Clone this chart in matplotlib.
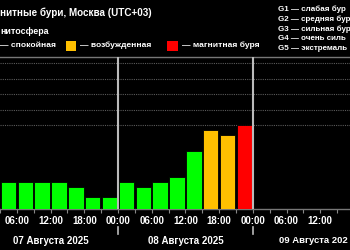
import matplotlib
matplotlib.use("Agg")
import matplotlib.pyplot as plt
import matplotlib.transforms as mtransforms
from matplotlib.patches import Rectangle

# ---- data ----
# 3-hour bins, hours since 07 Aug 2025 00:00 (bin start)
bin_start = [3, 6, 9, 12, 15, 18, 21, 24, 27, 30, 33, 36, 39, 42, 45]
kp_values = [1.33, 1.33, 1.33, 1.33, 1.0, 0.33, 0.33,
             1.33, 1.0, 1.33, 1.67, 3.33, 4.67, 4.33, 5.0]
tick_hours = [6, 12, 18, 24, 30, 36, 42, 48, 54, 60]
tick_labels = ["06:00", "12:00", "18:00", "00:00", "06:00", "12:00",
               "18:00", "00:00", "06:00", "12:00"]
day_bounds = [24, 48]
day_labels = ["07 Августа 2025", "08 Августа 2025", "09 Августа 202"]
day_pos = [12, 36, 52.75]
day_align = ["center", "center", "left"]
day_size = [7, 7, 6.8]
storm_levels = ["G1 — слабая бур", "G2 — средняя бур", "G3 — сильная бур",
                "G4 — очень силь", "G5 — экстремаль"]

GREEN = "#00ff00"
ORANGE = "#ffc000"
RED = "#ff0000"

def color_for(k):
    if k >= 5:
        return RED
    if k >= 4:
        return ORANGE
    return GREEN

plt.rcParams['font.family'] = ['Liberation Sans', 'DejaVu Sans']

fig = plt.figure(figsize=(3.5, 2.5), dpi=100, facecolor="black")
W, H = 350, 250
ax_bottom_px, ax_top_px = 208.5, 57
ax = fig.add_axes([0, 1 - ax_bottom_px / H, 1, (ax_bottom_px - ax_top_px) / H])
ax.set_facecolor("black")

ymin, ymax = -0.39, 9.39
ax.set_xlim(3.08, 65.3)
ax.set_ylim(ymin, ymax)

centers = [b + 1.5 for b in bin_start]
heights = [k - ymin for k in kp_values]
ax.bar(centers, heights, bottom=ymin, width=2.75,
       color=[color_for(k) for k in kp_values], edgecolor="black", linewidth=0.6, zorder=3)

for lvl in [5, 6, 7, 8, 9]:
    ax.axhline(lvl, color="#5a5a5a", lw=0.8, ls=(0, (1, 1)), zorder=1)

for spine in ["left", "right"]:
    ax.spines[spine].set_visible(False)
ax.spines["top"].set_color("#777777")
ax.spines["top"].set_linewidth(1.0)
ax.spines["bottom"].set_color("#777777")
ax.spines["bottom"].set_linewidth(1.0)

ax.set_yticks([])
ax.set_xticks(tick_hours)
ax.set_xticklabels(tick_labels)
ax.set_xticks(list(range(3, 66, 3)), minor=True)
ax.tick_params(axis="x", which="both", colors="#888888", length=3, width=0.8,
               labelcolor="white", labelsize=7, pad=2.5)
for lab in ax.get_xticklabels():
    lab.set_fontweight("bold")

trans = mtransforms.blended_transform_factory(ax.transData, ax.transAxes)
for d in day_bounds:
    ax.axvline(d, color="#bbbbbb", lw=1.5, zorder=4)
    ax.plot([d, d], [-0.125, -0.17], color="#bbbbbb", lw=1.2,
            transform=trans, clip_on=False)
for c, t, a, s in zip(day_pos, day_labels, day_align, day_size):
    ax.text(c, -0.212, t, transform=trans, ha=a, va="center",
            color="white", fontsize=s, fontweight="bold", clip_on=False)

# header texts (pixel coordinates -> figure fraction)
def fx(px):
    return px / W

def fy(py):
    return 1 - py / H

fig.text(fx(152), fy(13), "нитные бури, Москва (UTC+03)", ha="right", va="center",
         color="white", fontsize=7.1, fontweight="bold")
fig.text(fx(0.5), fy(31.5), "нитосфера", ha="left", va="center",
         color="white", fontsize=6.4, fontweight="bold")

fig.text(fx(0.5), fy(45.5), "— спокойная", ha="left", va="center",
         color="white", fontsize=6.1, fontweight="bold")
fig.patches.append(Rectangle((fx(66), fy(50.7)), fx(10), 10 / H, transform=fig.transFigure,
                             facecolor=ORANGE, edgecolor="none"))
fig.text(fx(80), fy(45.5), "— возбужденная", ha="left", va="center",
         color="white", fontsize=6.1, fontweight="bold")
fig.patches.append(Rectangle((fx(167), fy(50.7)), fx(10.5), 10 / H, transform=fig.transFigure,
                             facecolor=RED, edgecolor="none"))
fig.text(fx(182), fy(45.5), "— магнитная буря", ha="left", va="center",
         color="white", fontsize=6.1, fontweight="bold")

for i, s in enumerate(storm_levels):
    fig.text(fx(277.5), fy(9.3 + 9.75 * i), s, ha="left", va="center",
             color="white", fontsize=5.75, fontweight="bold")

fig.savefig("out.png", dpi=100, facecolor="black")
